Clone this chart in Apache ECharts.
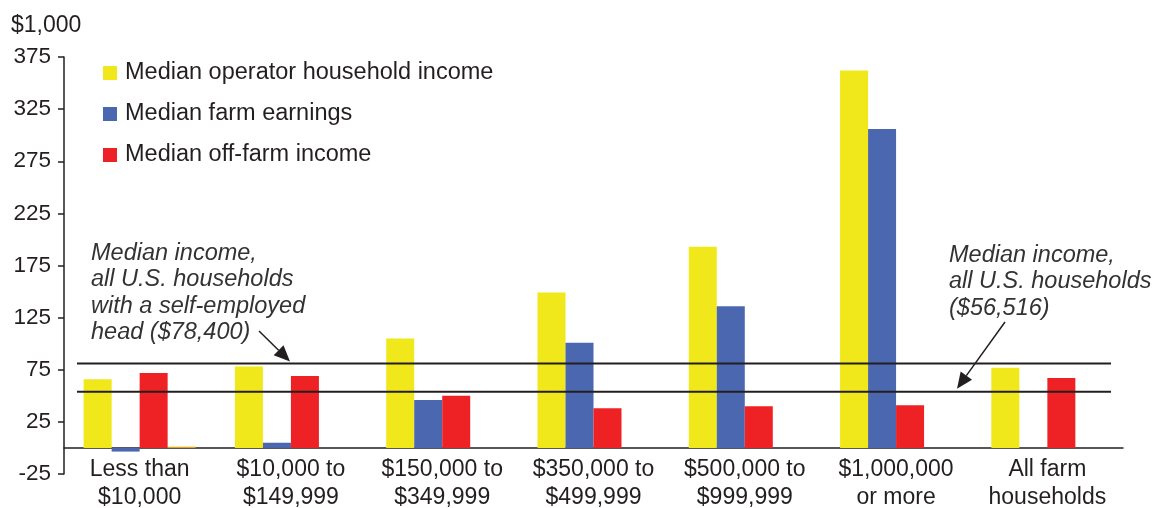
<!DOCTYPE html>
<html><head><meta charset="utf-8">
<script src="https://cdn.jsdelivr.net/npm/echarts@6/dist/echarts.min.js"></script>
<style>html,body{margin:0;padding:0;background:#fff}#c{width:1155px;height:508px}</style>
</head><body><div id="c"></div>
<script>
const categories = ['Less than\n$10,000','$10,000 to\n$149,999','$150,000 to\n$349,999','$350,000 to\n$499,999','$500,000 to\n$999,999','$1,000,000\nor more','All farm\nhouseholds'];
const operatorIncome = [66, 78, 105, 149, 193, 362, 77];
const farmEarnings = [-3.5, 5, 46, 101, 136, 306, 0];
const offFarmIncome = [72, 69, 50, 38, 40, 41, 67];
const otherSeries = [1.2, null, null, null, null, null, null];
const refSelfEmployed = 81;
const refAllHouseholds = 54;
const yTicks = {min: -25, max: 375, interval: 50};

const FONT = '"Liberation Sans", Arial, sans-serif';
const TXT = '#231f20';
const chart = echarts.init(document.getElementById('c'), null, {renderer: 'canvas'});
const barW = 28;
chart.setOption({
  animation: false,
  grid: {left: 64, right: 32, top: 57, bottom: 34, containLabel: false, outerBoundsMode: 'none'},
  legend: {
    data: ['Median operator household income','Median farm earnings','Median off-farm income'],
    orient: 'vertical', left: 98, top: 56, itemWidth: 14, itemHeight: 14, itemGap: 17,
    icon: 'rect',
    textStyle: {fontFamily: FONT, fontSize: 23.5, color: TXT, padding: [0,0,0,3]}
  },
  xAxis: {
    type: 'category', data: categories,
    axisLine: {onZero: true, lineStyle: {color: '#231f20', width: 1.5}},
    axisTick: {show: false},
    axisLabel: {fontFamily: FONT, fontSize: 23, color: TXT, lineHeight: 28, margin: -18, interval: 0}
  },
  yAxis: {
    type: 'value', min: yTicks.min, max: yTicks.max, interval: yTicks.interval,
    splitLine: {show: false},
    axisLine: {show: true, lineStyle: {color: '#231f20', width: 1.5}},
    axisTick: {show: true, length: 6, lineStyle: {color: '#231f20', width: 1.5}},
    axisLabel: {fontFamily: FONT, fontSize: 22.5, color: TXT, margin: 13}
  },
  series: [
    {name: 'Median operator household income', type: 'bar', data: operatorIncome, barWidth: barW, barGap: '0%', itemStyle: {color: '#f0e81a'}},
    {name: 'Median farm earnings', type: 'bar', data: farmEarnings, barWidth: barW, barGap: '0%', itemStyle: {color: '#4a67b0'}},
    {name: 'Median off-farm income', type: 'bar', data: offFarmIncome, barWidth: barW, barGap: '0%', itemStyle: {color: '#ee2224'}},
    {name: 'other', type: 'bar', data: otherSeries, barWidth: barW, barGap: '0%', itemStyle: {color: '#f0a81a'}}
  ]
});

function arrow(x1, y1, x2, y2) {
  const ang = Math.atan2(y2 - y1, x2 - x1);
  const L = 16, W = 7;
  const bx = x2 - L * Math.cos(ang), by = y2 - L * Math.sin(ang);
  const px = -Math.sin(ang) * W, py = Math.cos(ang) * W;
  return [
    {type: 'line', shape: {x1, y1, x2: bx, y2: by}, style: {stroke: '#231f20', lineWidth: 1.5}, z: 100},
    {type: 'polygon', shape: {points: [[x2, y2], [bx + px, by + py], [bx - px, by - py]]}, style: {fill: '#231f20'}, z: 100}
  ];
}
const yS = chart.convertToPixel({yAxisIndex: 0}, refSelfEmployed);
const yA = chart.convertToPixel({yAxisIndex: 0}, refAllHouseholds);
const lx1 = 77, lx2 = 1111;
const ital = {fontFamily: FONT, fontSize: 23.5, fontStyle: 'italic', fill: '#333', lineHeight: 26.5};
chart.setOption({
  graphic: [
    {type: 'text', left: 11, top: 14, style: {text: '$1,000', fontFamily: FONT, fontSize: 23, fill: TXT}},
    {type: 'line', shape: {x1: lx1, y1: yS, x2: lx2, y2: yS}, style: {stroke: '#231f20', lineWidth: 2}, z: 100},
    {type: 'line', shape: {x1: lx1, y1: yA, x2: lx2, y2: yA}, style: {stroke: '#231f20', lineWidth: 2}, z: 100},
    {type: 'text', x: 91, y: 240, style: Object.assign({text: 'Median income,\nall U.S. households\nwith a self-employed\nhead ($78,400)'}, ital)},
    {type: 'text', x: 949, y: 242, style: Object.assign({text: 'Median income,\nall U.S. households\n($56,516)'}, ital)},
    ...arrow(259, 331, 290, yS - 2),
    ...arrow(1005, 322, 957, yA - 3)
  ]
});
</script></body></html>
